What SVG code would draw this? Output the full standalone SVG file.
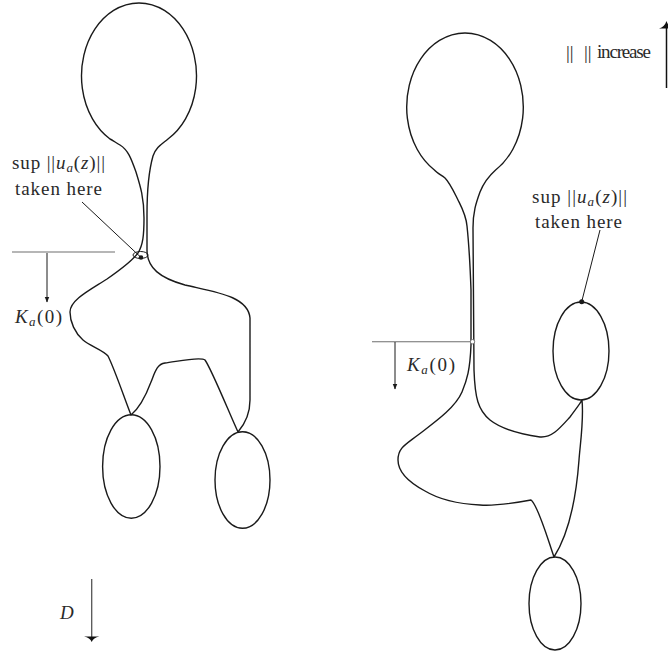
<svg xmlns="http://www.w3.org/2000/svg" width="668" height="661" viewBox="0 0 668 661">
<style>
.sh{fill:none;stroke:#1a1a1a;stroke-width:1.4;stroke-linejoin:round}
.gl{fill:none;stroke:#6e6e6e;stroke-width:1.1}
.ln{fill:none;stroke:#1a1a1a;stroke-width:1}
.t{font-family:"Liberation Serif","Times New Roman",serif;font-size:19px;fill:#2a2a2a}
.i{font-style:italic}
</style>
<defs>
<marker id="ah" viewBox="0 0 10 10" refX="9" refY="5" markerWidth="6" markerHeight="6" orient="auto" markerUnits="userSpaceOnUse">
<path d="M0,1 L10,5 L0,9 Z" fill="#1a1a1a"/>
</marker>
</defs>
<rect width="668" height="661" fill="#fff"/>

<g id="left-figure">
<path class="sh" d="M110,139 A57.5 73 0 1 1 168,139 C162,144 156,147 153,156 C149,170 147,188 147,215 L147,250 C147,268 160,278 185,285 C215,292 248,296 250,318 L250,400 C250,415 244,425 238,432 C230,415 212,370 205,360 C200,356 175,362 165,363 C157,364 155,372 151,382 C145,398 137,410 131,415 C125,400 115,370 108,356 C103,350 90,346 83,340 C75,333 70,322 70,312 C70,300 90,290 107,279 C120,270 132,261 138,253 C143,245 144,235 144,218 C144,197 140,185 136,172 C131,158 128,150 120,145 C115,142 112,140 110,139 Z"/>
</g>
<g id="left-ellipse-a"><ellipse class="sh" cx="131.3" cy="466.5" rx="28.7" ry="51.7"/></g>
<g id="left-ellipse-b"><ellipse class="sh" cx="242.5" cy="480" rx="27.5" ry="48.3"/></g>
<g id="left-marker">
<ellipse class="ln" cx="140.5" cy="255" rx="7.5" ry="3.5"/>
<circle cx="141" cy="257.5" r="2.3" fill="#1a1a1a"/>
</g>

<g id="right-figure">
<path class="sh" d="M434.4,170 A58.3 74 0 1 1 495.6,170 C490,175 484,182 480,192 C476,203 473,212 473,228 L474,370 C475,398 478,410 490,420 C500,428 520,434 540,437 C552,438 560,428 570,417 C575,410 580,404 582,400 C584,420 580,445 579,460 C576,500 568,535 554,557 C548,540 538,505 531,500 C515,503 495,506 480,505 C460,504 440,500 425,491 C410,483 398,473 398,460 C398,448 405,445 418,435 C435,422 455,408 462,392 C467,380 470,370 471,345 L471,290 C470,262 469,245 467,226 C466,215 462,208 458,200 C454,192 450,183 445,178 C441,175 437,173 434.4,170 Z"/>
</g>
<g id="right-ellipse-mid"><ellipse class="sh" cx="581" cy="351" rx="28" ry="49"/></g>
<g id="right-ellipse-bottom"><ellipse class="sh" cx="555" cy="603.5" rx="26" ry="46.5"/></g>
<g id="right-marker">
<circle cx="472.5" cy="341.7" r="2.2" fill="#fff" stroke="#6e6e6e" stroke-width="0.9"/>
<circle cx="581.7" cy="301.7" r="2.5" fill="#1a1a1a"/>
</g>

<g id="connectors">
<line class="gl" x1="12" y1="252" x2="115" y2="252"/>
<line class="ln" x1="47" y1="253" x2="47" y2="302" marker-end="url(#ah)"/>
<line class="ln" x1="82" y1="202" x2="140" y2="256.5"/>
<line class="gl" x1="372" y1="341.7" x2="470.5" y2="341.7"/>
<line class="ln" x1="395" y1="342" x2="395" y2="389" marker-end="url(#ah)"/>
<line class="ln" x1="600" y1="230" x2="581.7" y2="301.7"/>
<line stroke="#555" stroke-width="1.3" x1="91.7" y1="579" x2="91.7" y2="638"/>
<path d="M84,636.5 Q90,637.5 91.7,642 Q93.4,637.5 99.4,636.5 Z" fill="#111"/>
<line stroke="#111" stroke-width="1.5" x1="666.5" y1="88" x2="666.5" y2="25"/>
<path d="M659,28.5 Q664.5,27 666.5,21 Q668.5,27 674,28.5 Z" fill="#111"/>
</g>

<g id="labels">
<text class="t" x="12" y="169" textLength="93" lengthAdjust="spacing">sup ||<tspan class="i">u</tspan><tspan class="i" font-size="13" dy="3">a</tspan><tspan dy="-3">(</tspan><tspan class="i">z</tspan>)||</text>
<text class="t" x="15" y="195" textLength="87" lengthAdjust="spacing">taken here</text>
<text class="t" x="15" y="323" textLength="47" lengthAdjust="spacing"><tspan class="i">K</tspan><tspan class="i" font-size="13" dy="3">a</tspan><tspan dy="-3">(0)</tspan></text>
<text class="t" x="532" y="203" textLength="95" lengthAdjust="spacing">sup ||<tspan class="i">u</tspan><tspan class="i" font-size="13" dy="3">a</tspan><tspan dy="-3">(</tspan><tspan class="i">z</tspan>)||</text>
<text class="t" x="535" y="228" textLength="87" lengthAdjust="spacing">taken here</text>
<text class="t" x="407" y="371" textLength="48" lengthAdjust="spacing"><tspan class="i">K</tspan><tspan class="i" font-size="13" dy="3">a</tspan><tspan dy="-3">(0)</tspan></text>
<text class="t" x="566" y="59" font-size="15">||</text>
<text class="t" x="584" y="59" font-size="15">||</text>
<text class="t" x="597" y="58" font-size="14" textLength="54" lengthAdjust="spacing">increase</text>
<text class="t i" x="60" y="619" font-size="21">D</text>
</g>
</svg>
